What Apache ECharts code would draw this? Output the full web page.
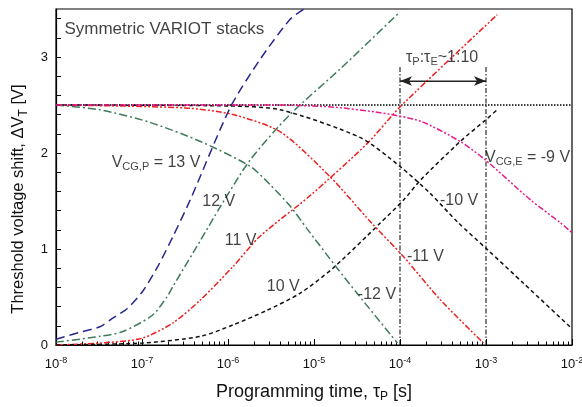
<!DOCTYPE html>
<html><head><meta charset="utf-8">
<script src="https://cdn.jsdelivr.net/npm/echarts@6/dist/echarts.min.js"></script>
<style>html,body{margin:0;padding:0;background:#fff}#c{width:582px;height:407px}</style>
</head><body><div id="c"></div>
<script>
// ---- axes ----
const xMajorTicks = [1e-8, 1e-7, 1e-6, 1e-5, 1e-4, 1e-3, 1e-2];
const yLabelTicks = [0, 1, 2, 3];
const yMinorTicks = [0, 0.2, 0.4, 0.6, 0.8, 1, 1.2, 1.4, 1.6, 1.8, 2, 2.2, 2.4, 2.6, 2.8, 3, 3.2, 3.4];

// ---- programming curves [tau_P (s), dVT (V)] ----
const prog13 = [[1e-8,0.06],[2.04e-8,0.14],[3.24e-8,0.19],[4.57e-8,0.28],[6.76e-8,0.38],[1.02e-7,0.56],[1.55e-7,0.83],[2.29e-7,1.13],[3.63e-7,1.51],[1.07e-6,2.48],[2.34e-6,2.97],[5.25e-6,3.39],[7.94e-6,3.51]];
const prog12 = [[1e-8,0.03],[3.24e-8,0.09],[6.0e-8,0.14],[1.32e-7,0.31],[1.95e-7,0.50],[2.29e-7,0.61],[4.79e-7,1.09],[8.13e-7,1.44],[1.82e-6,1.93],[5.25e-6,2.40],[2.04e-5,2.88],[1e-4,3.47]];
const prog11 = [[1e-8,0.0],[3.24e-8,0.02],[1e-7,0.07],[2.29e-7,0.23],[4.79e-7,0.47],[1.15e-6,0.82],[2.34e-6,1.13],[9.12e-6,1.56],[4.17e-5,2.10],[1e-4,2.48],[1.35e-3,3.44]];
const prog10 = [[1e-8,0.0],[1e-7,0.02],[4.79e-7,0.09],[1.15e-6,0.21],[2.82e-6,0.36],[6.92e-6,0.54],[1.66e-5,0.80],[5.89e-5,1.27],[1.10e-4,1.51],[1.74e-4,1.72],[5.01e-4,2.12],[9.77e-4,2.34],[1.35e-3,2.45]];

// ---- erase curves ----
const erase12 = [[1e-8,2.5],[3.24e-8,2.45],[1.23e-7,2.32],[4.79e-7,2.12],[1.82e-6,1.86],[3.09e-6,1.67],[5.25e-6,1.45],[8.32e-6,1.21],[1.86e-5,0.80],[3.16e-5,0.54],[9.33e-5,0.02]];
const erase11 = [[1e-8,2.5],[3.16e-7,2.47],[1.15e-6,2.40],[4.07e-6,2.22],[1.55e-5,1.75],[4.57e-5,1.28],[1.10e-4,0.92],[2.95e-4,0.47],[9.33e-4,0.02]];
const erase10 = [[1e-8,2.5],[1e-6,2.49],[4.07e-6,2.45],[3.47e-5,2.16],[1e-4,1.86],[2.24e-4,1.58],[4.68e-4,1.28],[1.05e-3,0.99],[2.75e-3,0.64],[1e-2,0.17]];
const erase9 = [[1e-8,2.5],[3.16e-6,2.5],[1.58e-5,2.48],[5.89e-5,2.42],[1.74e-4,2.33],[5.01e-4,2.12],[9.77e-4,1.93],[3.31e-3,1.51],[7.41e-3,1.27],[1e-2,1.17]];

// ---- reference marks ----
const refLevel = 2.5;
const timeRange = [1e-8, 1e-2];
const ratioTimes = [1e-4, 1e-3];
const ratioTop = 2.9;
const arrowLevel = 2.75;

// ---- annotation texts and anchors ----
const annTexts = ['{t|Symmetric VARIOT stacks}', '{n|V}{s|CG,P}{n| = 13 V}', '{n|12 V}', '{n|11 V}', '{n|10 V}', '{n|-12 V}', '{n|-11 V}', '{n|-10 V}', '{n|V}{s|CG,E}{n| = -9 V}', '{n|τ}{s|P}{n|:τ}{s|E}{n|~1:10}'];
const annAnchors = [[1.27e-8,3.28],[4.5e-8,1.90],[5.1e-7,1.49],[9.3e-7,1.08],[2.86e-6,0.60],[3.28e-5,0.52],[1.22e-4,0.92],[2.95e-4,1.50],[9.86e-4,1.95],[1.19e-4,2.99]];

const xMinorTicks = [];
for (let e = -8; e < -2; e++) for (let m = 2; m <= 9; m++) xMinorTicks.push(m * Math.pow(10, e));

const FONT = 'Liberation Sans, Arial, Helvetica, sans-serif';
const annRich = {
  t: { fontSize: 17, fontFamily: FONT, color: '#111' },
  n: { fontSize: 16, fontFamily: FONT, color: '#111' },
  s: { fontSize: 11, fontFamily: FONT, color: '#111', padding: [9, 0, 0, 0] }
};

function curve(name, data, color, dash) {
  return { name, type: 'line', data, showSymbol: false, symbol: 'none', smooth: 0.25,
    lineStyle: { color, width: 1.5, type: dash }, z: 3, silent: true };
}

const chart = echarts.init(document.getElementById('c'), null, { renderer: 'canvas' });
chart.setOption({
  animation: false,
  backgroundColor: '#fff',
  grid: { left: 56, right: 10, top: 9, bottom: 62, outerBoundsMode: 'none', containLabel: false, show: true, borderColor: '#000', borderWidth: 1.2, backgroundColor: 'transparent' },
  xAxis: [{
    type: 'log', logBase: 10, min: timeRange[0], max: timeRange[1],
    name: '{a|Programming time, τ}{s|P}{a| [s]}', nameLocation: 'middle', nameGap: 36,
    nameTextStyle: { rich: { a: { fontSize: 18, fontFamily: FONT, color: '#111' }, s: { fontSize: 12, fontFamily: FONT, color: '#111', padding: [10, 0, 0, 0] } } },
    axisLine: { lineStyle: { color: '#000', width: 1.2 } },
    axisTick: { inside: true, length: 6, lineStyle: { color: '#000', width: 1 }, customValues: xMajorTicks },
    axisLabel: { customValues: xMajorTicks, margin: 11,
      formatter: v => '{b|10}{e|' + Math.round(Math.log10(v)) + '}',
      rich: { b: { fontSize: 13, fontFamily: FONT, color: '#111' }, e: { fontSize: 9, fontFamily: FONT, color: '#111', padding: [0, 0, 8, 0] } } },
    splitLine: { show: false }
  }, {
    type: 'log', logBase: 10, min: timeRange[0], max: timeRange[1], position: 'bottom', gridIndex: 0,
    axisLine: { show: false },
    axisTick: { inside: true, length: 3.5, lineStyle: { color: '#000', width: 1 }, customValues: xMinorTicks },
    axisLabel: { show: false }, splitLine: { show: false }
  }],
  yAxis: {
    type: 'value', min: 0, max: 3.5,
    name: '{a|Threshold voltage shift, ΔV}{s|T}{a| [V]}{pad| }', nameLocation: 'middle', nameGap: 24,
    nameTextStyle: { rich: { a: { fontSize: 16.5, fontFamily: FONT, color: '#111' }, s: { fontSize: 12, fontFamily: FONT, color: '#111', padding: [10, 0, 0, 0] }, pad: { width: 44, fontSize: 16.5 } } },
    axisLine: { show: true, lineStyle: { color: '#000', width: 1.2 } },
    axisTick: { show: true, inside: true, length: 5, lineStyle: { color: '#000', width: 1 }, customValues: yMinorTicks },
    axisLabel: { customValues: yLabelTicks, margin: 8, fontSize: 13, fontFamily: FONT, color: '#111' },
    splitLine: { show: false }
  },
  series: [
    { type: 'line', data: [[timeRange[0], refLevel], [timeRange[1], refLevel]], symbol: 'none', silent: true,
      lineStyle: { color: '#000', width: 1.3, type: [1.5, 1.5] }, z: 2 },
    { type: 'line', data: [[ratioTimes[0], 0], [ratioTimes[0], ratioTop]], symbol: 'none', silent: true,
      lineStyle: { color: '#000', width: 1, type: [5, 2, 1.5, 2] }, z: 2 },
    { type: 'line', data: [[ratioTimes[1], 0], [ratioTimes[1], ratioTop]], symbol: 'none', silent: true,
      lineStyle: { color: '#000', width: 1, type: [5, 2, 1.5, 2] }, z: 2 },
    { type: 'line', data: [[ratioTimes[0], arrowLevel], [ratioTimes[1], arrowLevel]], symbol: 'none', silent: true,
      lineStyle: { color: '#222', width: 1 }, z: 2,
      markLine: { silent: true, symbol: ['arrow', 'arrow'], symbolSize: [7, 12], label: { show: false },
        lineStyle: { color: '#222', width: 1, type: 'solid' },
        data: [[{ coord: [ratioTimes[0], arrowLevel] }, { coord: [ratioTimes[1], arrowLevel] }]] } },
    curve('13 V', prog13, '#27288f', [9, 5]),
    curve('12 V', prog12, '#3f7a5b', [8, 3, 2, 3]),
    curve('11 V', prog11, '#ee2020', [6, 2, 2, 2, 2, 2]),
    curve('10 V', prog10, '#111111', [4, 3]),
    curve('-12 V', erase12, '#3f7a5b', [8, 3, 2, 3]),
    curve('-11 V', erase11, '#ee2020', [6, 2, 2, 2, 2, 2]),
    curve('-10 V', erase10, '#111111', [4, 3]),
    curve('-9 V', erase9, '#e8198b', [6, 2, 2, 2, 2, 2]),
    { type: 'scatter', symbolSize: 1, itemStyle: { color: 'rgba(0,0,0,0)' }, silent: true, z: 5,
      data: annAnchors,
      label: { show: true, position: [0, 0], align: 'left', verticalAlign: 'middle',
        formatter: p => annTexts[p.dataIndex], rich: annRich } }
  ]
});
</script></body></html>
